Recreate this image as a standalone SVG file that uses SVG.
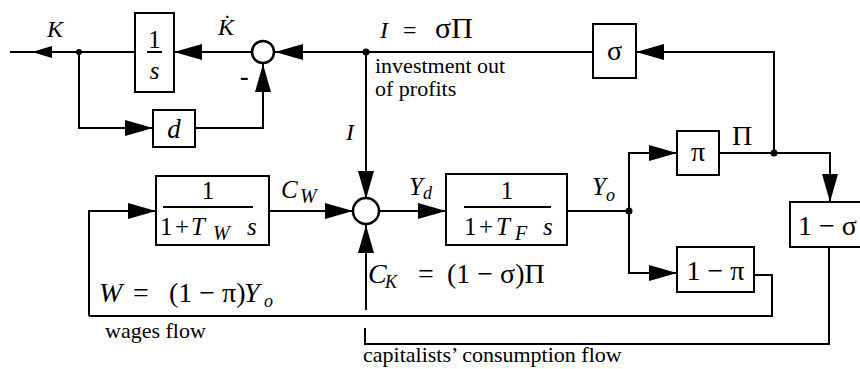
<svg xmlns="http://www.w3.org/2000/svg" width="860" height="369" viewBox="0 0 860 369" font-family="'Liberation Serif', 'Times New Roman', serif">
<defs>
<marker id="arr" viewBox="0 0 28 16" markerWidth="28" markerHeight="16" refX="28" refY="8" orient="auto" markerUnits="userSpaceOnUse">
<path d="M0,0 L28,8 L0,16 z" fill="#000"/>
</marker>
<marker id="arrs" viewBox="0 0 20 12" markerWidth="20" markerHeight="12" refX="20" refY="6" orient="auto" markerUnits="userSpaceOnUse">
<path d="M0,0 L20,6 L0,12 z" fill="#000"/>
</marker>
</defs>
<style>
.ln{fill:none;stroke:#000;stroke-width:2}
.bx{fill:#fff;stroke:#000;stroke-width:2}
.sum{fill:#fff;stroke:#000;stroke-width:2.5}
.dot{fill:#000}
text{fill:#000}
.it{font-style:italic}
.m{font-size:24px}
.b{font-size:25px}
.n{font-size:22px}
.e{font-size:28px}
.g{font-size:28px}
.sub{font-size:18px;font-style:italic}
.sb{font-size:20px;font-style:italic}
</style>
<rect width="860" height="369" fill="#fff"/>
<g id="connectors">
<path class="ln" d="M135,52 H32" marker-end="url(#arrs)"/>
<path class="ln" d="M33,52 H10"/>
<path class="ln" d="M252,52 H174" marker-end="url(#arr)"/>
<path class="ln" d="M593,52 H275" marker-end="url(#arr)"/>
<path class="ln" d="M774,153 V52 H636" marker-end="url(#arr)"/>
<path class="ln" d="M79,52 V128 H153" marker-end="url(#arr)"/>
<path class="ln" d="M195,128 H263 V64" marker-end="url(#arr)"/>
<path class="ln" d="M366,52 V199" marker-end="url(#arr)"/>
<path class="ln" d="M89,316 V211 H156" marker-end="url(#arr)"/>
<path class="ln" d="M269,211 H353" marker-end="url(#arr)"/>
<path class="ln" d="M379,211 H446" marker-end="url(#arr)"/>
<path class="ln" d="M567,211 H629"/>
<path class="ln" d="M629,211 V153 H677" marker-end="url(#arr)"/>
<path class="ln" d="M629,211 V273 H677" marker-end="url(#arr)"/>
<path class="ln" d="M719,153 H830 V202" marker-end="url(#arr)"/>
<path class="ln" d="M754,275 H772 V316 H89"/>
<path class="ln" d="M829,247 V344 H365 V328"/>
<path class="ln" d="M366,310 V225" marker-end="url(#arr)"/>
<circle class="dot" cx="79" cy="52" r="3"/>
<circle class="dot" cx="366" cy="52" r="3.5"/>
<circle class="dot" cx="629" cy="211" r="3.5"/>
<circle class="dot" cx="774" cy="153" r="3.5"/>
</g>
<g id="integrator">
<rect class="bx" x="135" y="13" width="39" height="79"/>
<text class="b" x="154.5" y="48" text-anchor="middle">1</text>
<line x1="147" y1="52" x2="162" y2="52" stroke="#000" stroke-width="2"/>
<text class="b it" x="154.5" y="79" text-anchor="middle">s</text>
</g>
<g id="depreciation">
<rect class="bx" x="153" y="110" width="42" height="37"/>
<text class="it" font-size="27" x="174" y="138" text-anchor="middle">d</text>
</g>
<g id="sum-k">
<circle class="sum" cx="263" cy="52" r="11"/>
<text x="240" y="85" font-size="26" font-weight="bold">-</text>
</g>
<g id="sigma">
<rect class="bx" x="593" y="24" width="43" height="54"/>
<text class="g" x="614.5" y="60" text-anchor="middle">σ</text>
</g>
<g id="wages-lag">
<rect class="bx" x="156" y="176" width="113" height="69"/>
<text class="b" x="208" y="199" text-anchor="middle">1</text>
<line x1="163" y1="207" x2="253" y2="207" stroke="#000" stroke-width="2"/>
<text class="b" y="235"><tspan x="160">1</tspan><tspan x="175">+</tspan><tspan class="it" x="191">T</tspan><tspan class="sb" x="213" dy="5">W</tspan><tspan class="it" x="247" dy="-5">s</tspan></text>
</g>
<g id="sum-y">
<circle class="sum" cx="366" cy="211" r="13"/>
</g>
<g id="firm-lag">
<rect class="bx" x="446" y="174" width="121" height="71"/>
<text class="b" x="507" y="199" text-anchor="middle">1</text>
<line x1="464" y1="207" x2="551" y2="207" stroke="#000" stroke-width="2"/>
<text class="b" y="235"><tspan x="464">1</tspan><tspan x="479">+</tspan><tspan class="it" x="496">T</tspan><tspan class="sb" x="515" dy="5">F</tspan><tspan class="it" x="543" dy="-5">s</tspan></text>
</g>
<g id="pi">
<rect class="bx" x="677" y="131" width="42" height="44"/>
<text class="g" x="698" y="161" text-anchor="middle">π</text>
</g>
<g id="one-minus-pi">
<rect class="bx" x="677" y="247" width="77" height="45"/>
<text class="e" x="715.5" y="280" text-anchor="middle">1 − π</text>
</g>
<g id="one-minus-sigma">
<rect class="bx" x="790" y="202" width="80" height="45"/>
<text class="e" x="798" y="235">1 − σ</text>
</g>
<g id="labels">
<text class="m it" x="47" y="37">K</text>
<text class="m it" x="218" y="35">K̇</text>
<text class="m" y="38"><tspan class="it" x="380">I</tspan><tspan x="403">=</tspan><tspan font-size="30" x="435">σΠ</tspan></text>
<text class="n" x="375" y="73">investment out</text>
<text class="n" x="375" y="96">of profits</text>
<text class="m it" x="346" y="140">I</text>
<text class="g" x="732" y="145">Π</text>
<text class="b it" x="281" y="198">C<tspan class="sb" x="300" dy="5">W</tspan></text>
<text class="b it" x="409" y="195">Y<tspan class="sub" dy="4">d</tspan></text>
<text class="b it" x="592" y="195">Y<tspan class="sub" dy="6">o</tspan></text>
<text class="e" y="283"><tspan class="it" x="368">C</tspan><tspan class="sub" x="385" dy="5">K</tspan><tspan x="418" dy="-5">=</tspan><tspan x="447">(1 − σ)Π</tspan></text>
<text class="e" y="302"><tspan class="it" x="99">W</tspan><tspan x="133">=</tspan><tspan x="169">(1 − π)</tspan><tspan class="it" x="244">Y</tspan><tspan class="sub" x="264" dy="5">o</tspan></text>
<text class="n" x="105" y="338">wages flow</text>
<text class="n" x="363" y="362">capitalists’ consumption flow</text>
</g>
</svg>
